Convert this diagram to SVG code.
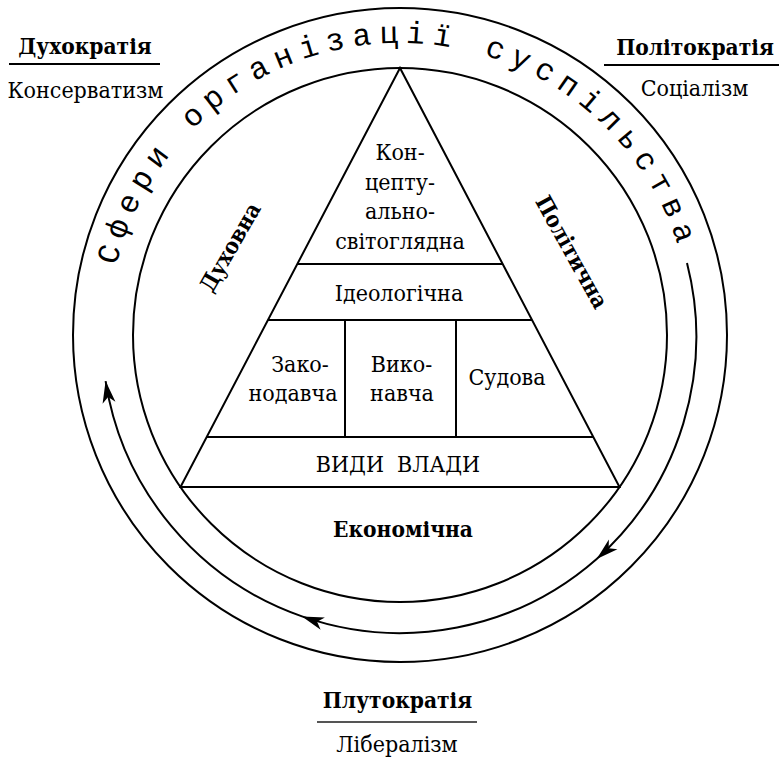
<svg xmlns="http://www.w3.org/2000/svg" width="779" height="762" viewBox="0 0 779 762">
<defs>
<style>
.ln{fill:none;stroke:#000;stroke-width:2}
.t{font-family:"DejaVu Serif Condensed","DejaVu Serif",serif;font-stretch:condensed;font-size:23px;fill:#000;text-anchor:middle}
.b{font-family:"DejaVu Serif Condensed","DejaVu Serif",serif;font-stretch:condensed;font-weight:bold;font-size:22.5px;fill:#000;text-anchor:middle}
.arc{font-family:"Liberation Mono","DejaVu Sans Mono",monospace;font-size:31px;letter-spacing:7.7px;fill:#000}
</style>
<marker id="ah" viewBox="-24 -8 26 16" refX="0" refY="0" markerWidth="26" markerHeight="16" markerUnits="userSpaceOnUse" orient="auto"><path d="M0,0 L-22,-6.5 L-16,0 L-22,6.5 Z" fill="#000"/></marker>
<path id="tp" d="M116.3,265.8 A292,292 0 0,1 687.6,284.3"/>
</defs>
<rect width="779" height="762" fill="#fff"/>

<g id="rings">
<circle class="ln" cx="400" cy="335" r="327"/>
<circle class="ln" cx="400" cy="335" r="267"/>
</g>

<g id="ring-title">
<text class="arc"><textPath href="#tp">Сфери організації суспільства</textPath></text>
</g>

<g id="connectors">
<path class="ln" d="M687,263 A298,298 0 0,1 596.7,558.9 A298,298 0 0,1 302,616.4 A298,298 0 0,1 105.6,381.1" marker-mid="url(#ah)" marker-end="url(#ah)"/>
</g>

<g id="pyramid">
<polygon class="ln" points="400,68 180.5,487 619.5,487"/>
<line class="ln" x1="297.3" y1="264" x2="502.7" y2="264"/>
<line class="ln" x1="268" y1="320" x2="532" y2="320"/>
<line class="ln" x1="206.7" y1="437" x2="593.3" y2="437"/>
<line class="ln" x1="345" y1="320" x2="345" y2="437"/>
<line class="ln" x1="456" y1="320" x2="456" y2="437"/>
</g>

<g id="node-concept">
<text class="t" x="400" y="160">Кон-</text>
<text class="t" x="400" y="189.5">цепту-</text>
<text class="t" x="400" y="219">ально-</text>
<text class="t" x="400" y="248.5">світоглядна</text>
</g>
<g id="node-ideology"><text class="t" x="399" y="301">Ідеологічна</text></g>
<g id="node-legislative">
<text class="t" x="300" y="371.5">Зако-</text>
<text class="t" x="293" y="400.5">нодавча</text>
</g>
<g id="node-executive">
<text class="t" x="401.5" y="371.5">Вико-</text>
<text class="t" x="402" y="401">навча</text>
</g>
<g id="node-judicial"><text class="t" x="507" y="385">Судова</text></g>
<g id="node-powers"><text class="t" x="398" y="472" xml:space="preserve">ВИДИ  ВЛАДИ</text></g>

<g id="sphere-spiritual"><text class="b" transform="translate(230,247) rotate(-60)" x="0" y="8">Духовна</text></g>
<g id="sphere-political"><text class="b" transform="translate(572,252) rotate(61)" x="0" y="8">Політична</text></g>
<g id="sphere-economic"><text class="b" x="403" y="537">Економічна</text></g>

<g id="label-duho">
<text class="b" x="85" y="54">Духократія</text>
<line class="ln" x1="9" y1="64" x2="160" y2="64"/>
<text class="t" x="85.5" y="98">Консерватизм</text>
</g>
<g id="label-polit">
<text class="b" x="695" y="55">Політократія</text>
<line class="ln" x1="604" y1="65" x2="779" y2="65"/>
<text class="t" x="694.5" y="96">Соціалізм</text>
</g>
<g id="label-pluto">
<text class="b" x="397.5" y="708">Плутократія</text>
<line x1="317" y1="722" x2="477" y2="722" stroke="#555" stroke-width="2"/>
<text class="t" x="397" y="752">Лібералізм</text>
</g>
</svg>
